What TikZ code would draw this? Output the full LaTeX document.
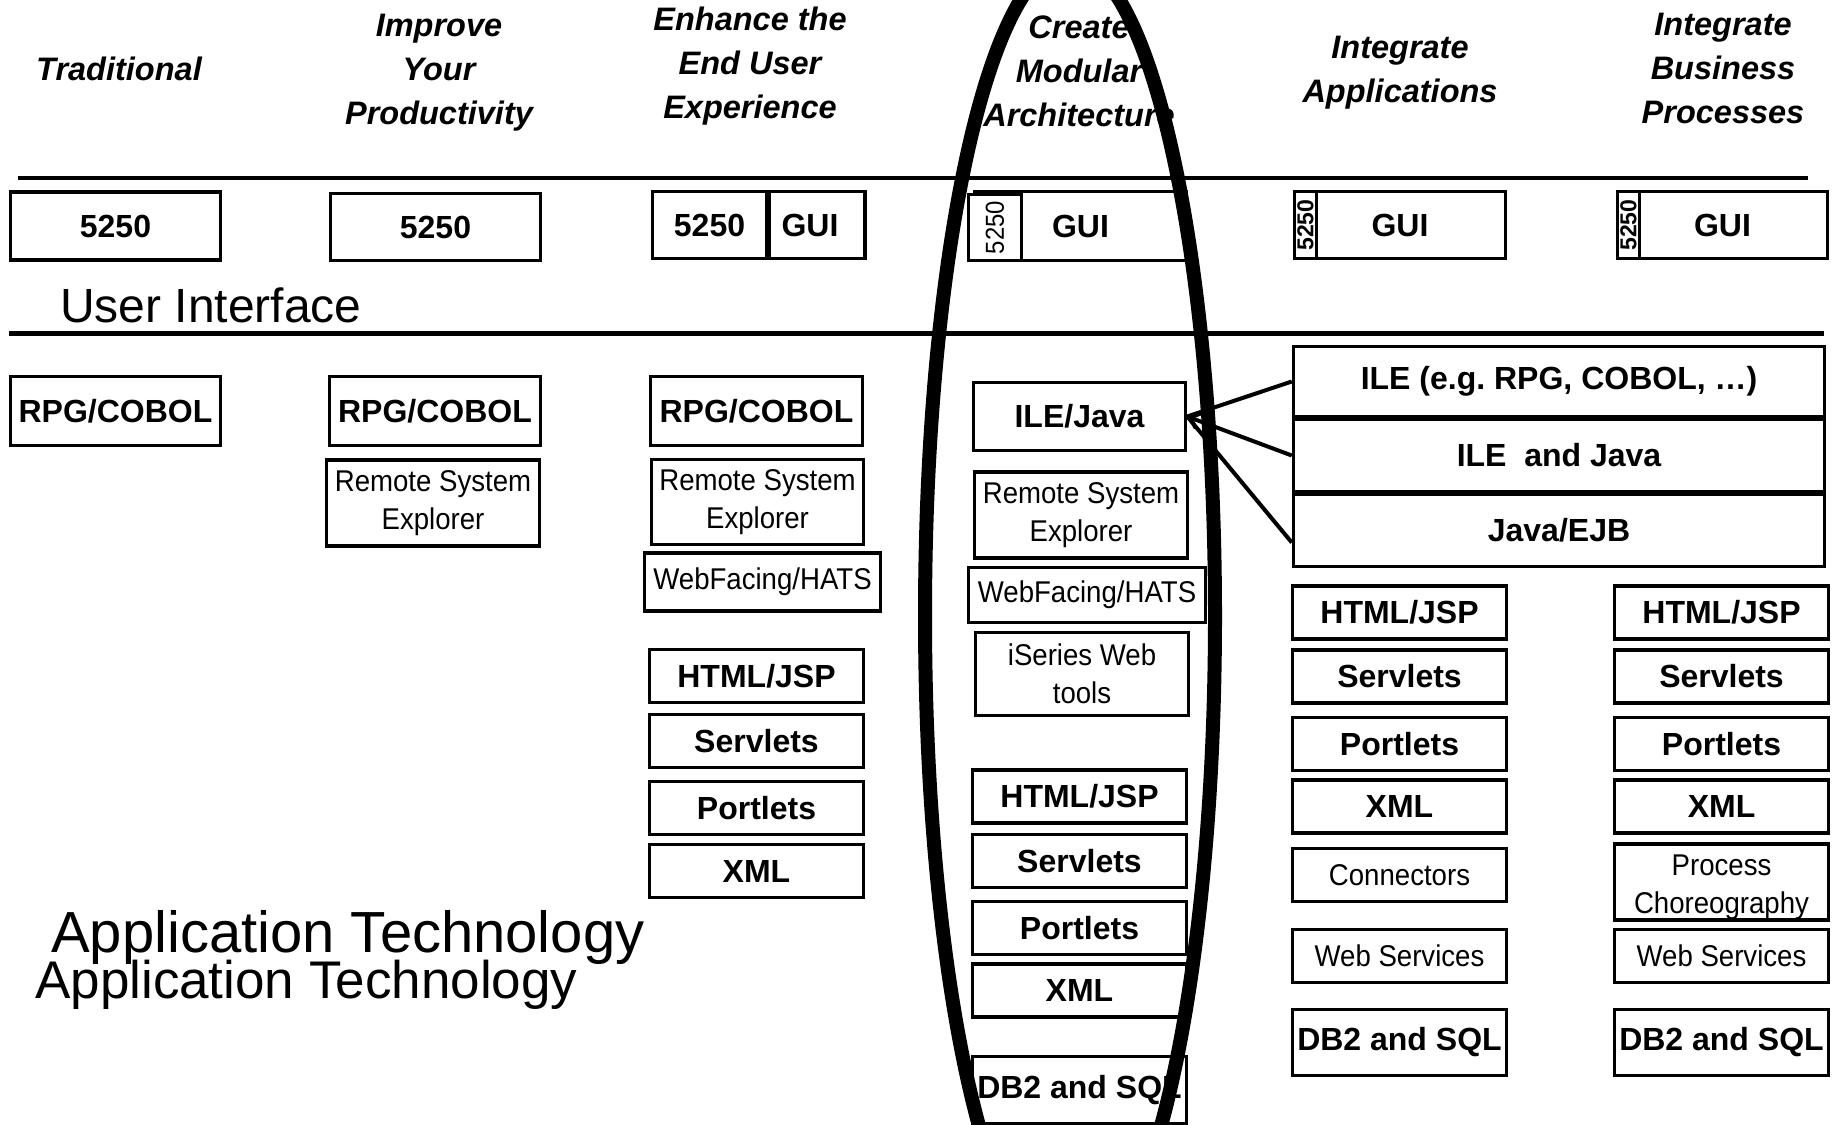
\documentclass[tikz,border=0pt]{standalone}
\usepackage{fontspec}
\setmainfont{Liberation Sans}
\newfontfamily\narrowsans[FakeStretch=0.92]{Liberation Sans}
\usetikzlibrary{arrows.meta}
\newcommand\boldlbl{\fontsize{32}{37}\selectfont\bfseries}
\newcommand\plainlbl{\narrowsans\fontsize{30}{38}\selectfont}
\newcommand\headlbl{\fontsize{32.5}{44}\selectfont\bfseries\itshape}
\tikzset{
  >={Straight Barb[length=9pt, width=16pt]},
  cell/.style={draw, line width=3.5pt, fill=white, inner sep=0pt,
    align=center, font=\boldlbl, minimum width=214pt, minimum height=53pt},
  tallcell/.style={cell, minimum height=67pt},
  plaincell/.style={cell, font=\plainlbl},
  tag/.style={cell, font=\narrowsans\fontsize{26}{26}\selectfont},
  btag/.style={cell, font=\fontsize{23}{23}\selectfont\bfseries},
  heading/.style={align=center, font=\headlbl, inner sep=0pt},
  bandlabel/.style={anchor=base west, inner sep=0pt},
  ring/.style={line width=14pt},
  link/.style={line width=4pt},
}

\begin{document}
\begin{tikzpicture}[x=1pt, y=-1pt]
  \useasboundingbox (0,0) rectangle (1835,1124);
  \clip (0,0) rectangle (1835,1124);

  % ---- Column headings ---------------------------------------------------
  \node[heading] (h1) at (119,69)   {Traditional};
  \node[heading] (h2) at (439,73)   {Improve\\Your\\Productivity};
  \node[heading] (h3) at (750,66)   {Enhance the\\End User\\Experience};
  \node[heading] (h4) at (1079,71)  {Create\\Modular\\Architecture};
  \node[heading] (h5) at (1400,73)  {Integrate\\Applications};
  \node[heading] (h6) at (1723,68)  {Integrate\\Business\\Processes};

  % ---- User interface band ----------------------------------------------
  \draw[line width=3.5pt] (18,178) -- (1808,178);
  \draw[line width=5pt]   (9,333) -- (1824,333);
  \node[bandlabel, font=\fontsize{48}{48}\selectfont] (uilbl) at (60,322) {User Interface};

  \node[tallcell, minimum width=210pt, minimum height=68pt] (ui1) at (115.5,226) {5250};
  \node[tallcell, minimum width=210pt] (ui2) at (435.5,227) {5250};
  \node[tallcell, minimum width=114pt] (ui3a) at (709.5,225) {5250};
  \node[tallcell, minimum width=96pt]  (ui3b) at (817,225)   {GUI\hspace*{14pt}};
  \node[tallcell, minimum width=212pt, minimum height=69pt] (ui4) at (1080.5,226) {GUI};
  \node[tag, minimum width=53pt, minimum height=66pt] (ui4s) at (995,227.5) {\rotatebox{90}{5250}};
  \node[tallcell, minimum width=211pt] (ui5) at (1400,225) {GUI};
  \node[btag, minimum width=22pt, minimum height=67pt] (ui5s) at (1305.5,225) {\rotatebox{90}{5250}};
  \node[tallcell, minimum width=210pt] (ui6) at (1722.5,225) {GUI};
  \node[btag, minimum width=22pt, minimum height=67pt] (ui6s) at (1628.5,225) {\rotatebox{90}{5250}};

  % ---- Traditional / productivity columns --------------------------------
  \node[cell, minimum width=210pt, minimum height=69pt] (rpg1) at (115.5,411) {RPG/COBOL};
  \node[cell, minimum width=211pt, minimum height=69pt] (rpg2) at (435,411)   {RPG/COBOL};
  \node[plaincell, minimum width=213pt, minimum height=86pt] (rse2) at (433,503) {Remote System\\Explorer};

  % ---- End user experience column ----------------------------------------
  \node[cell, minimum width=212pt, minimum height=69pt] (rpg3) at (756.5,411) {RPG/COBOL};
  \node[plaincell, minimum width=212pt, minimum height=85pt] (rse3) at (757.5,502) {Remote System\\Explorer};
  \node[plaincell, minimum width=236pt, minimum height=58pt] (web3) at (762.5,582) {WebFacing/HATS};
  \node[cell] (html3) at (756.5,676) {HTML/JSP};
  \node[cell] (srv3)  at (756.5,741) {Servlets};
  \node[cell] (prt3)  at (756.5,808) {Portlets};
  \node[cell] (xml3)  at (756.5,871) {XML};

  % ---- Modular architecture column ---------------------------------------
  \node[cell, minimum width=212pt, minimum height=68pt] (ilej) at (1079.5,416.5) {ILE/Java};
  \node[plaincell, minimum width=213pt, minimum height=86pt] (rse4) at (1081,515) {Remote System\\Explorer};
  \node[plaincell, minimum width=237pt, minimum height=55pt] (web4) at (1087,595) {WebFacing/HATS};
  \node[plaincell, minimum width=213pt, minimum height=83pt] (iser) at (1082,674) {iSeries Web\\tools};
  \node[cell] (html4) at (1079.5,796.5) {HTML/JSP};
  \node[cell] (srv4)  at (1079.5,861)   {Servlets};
  \node[cell] (prt4)  at (1079.5,928)   {Portlets};
  \node[cell] (xml4)  at (1079.5,990.5) {XML};
  \node[cell, minimum height=67pt] (db4) at (1079.5,1090) {DB2 and SQL};

  % ---- Integration columns -----------------------------------------------
  \node[cell, minimum width=531pt, minimum height=70pt] (ile)  at (1559,381.5) {ILE (e.g.\ RPG, COBOL, \dots)};
  \node[cell, minimum width=531pt, minimum height=72pt] (iljv) at (1559,455.5) {ILE\ \ and Java};
  \node[cell, minimum width=531pt, minimum height=72pt] (ejb)  at (1559,530.5) {Java/EJB};

  \node[cell] (html5) at (1399.5,612.5) {HTML/JSP};
  \node[cell] (srv5)  at (1399.5,676.5) {Servlets};
  \node[cell] (prt5)  at (1399.5,744)   {Portlets};
  \node[cell] (xml5)  at (1399.5,806.5) {XML};
  \node[plaincell] (conn) at (1399.5,875) {Connectors};
  \node[plaincell] (ws5)  at (1399.5,956) {Web Services};
  \node[cell, minimum height=66pt] (db5) at (1399.5,1042.5) {DB2 and SQL};

  \node[cell] (html6) at (1721.5,612.5) {HTML/JSP};
  \node[cell] (srv6)  at (1721.5,676.5) {Servlets};
  \node[cell] (prt6)  at (1721.5,744)   {Portlets};
  \node[cell] (xml6)  at (1721.5,806.5) {XML};
  \node[plaincell, minimum height=67pt] (proc) at (1721.5,882) {\raisebox{-5pt}[\height][\depth]{\begin{tabular}{@{}c@{}}Process\\Choreography\end{tabular}}};
  \node[plaincell] (ws6)  at (1721.5,956) {Web Services};
  \node[cell, minimum height=66pt] (db6) at (1721.5,1042.5) {DB2 and SQL};

  % ---- Application technology band ---------------------------------------
  \node[bandlabel, font=\fontsize{58}{58}\selectfont] (atlbl1) at (51,952) {Application Technology};
  \node[bandlabel, font=\fontsize{53}{53}\selectfont] (atlbl2) at (35,998) {Application Technology};

  % ---- Highlight ring and links ------------------------------------------
  \draw[ring] (1070,616) ellipse [x radius=145pt, y radius=655pt];

  \draw[link] (ile.west) -- (ilej.east);
  \draw[link, <-] (ilej.east) -- (iljv.west);
  \draw[link] ([yshift=-12pt]ejb.west) -- (ilej.east);

\end{tikzpicture}
\end{document}
